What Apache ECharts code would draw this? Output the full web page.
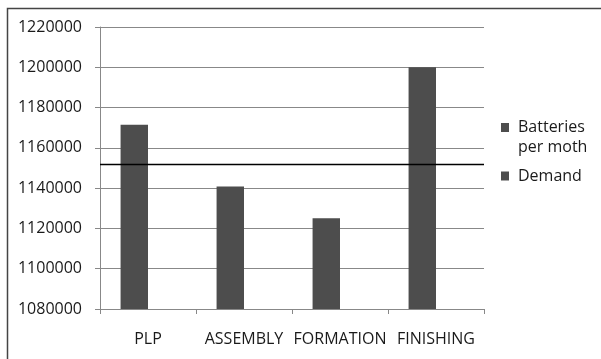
<!DOCTYPE html>
<html>
<head>
<meta charset="utf-8">
<script src="https://cdn.jsdelivr.net/npm/echarts@6/dist/echarts.min.js"></script>
<style>
  html, body { margin: 0; padding: 0; background: #fff; }
  #chart { width: 601px; height: 359px; }
</style>
</head>
<body>
<div id="chart"></div>
<script>
// Production stages and monthly battery output per stage
const stages = ['PLP', 'ASSEMBLY', 'FORMATION', 'FINISHING'];
const batteriesPerMonth = [1171500, 1140800, 1125000, 1200000];
const demand = 1152000;
const yTicks = { min: 1080000, max: 1220000, step: 20000 };

const FONT = '"Open Sans", sans-serif';
const BAR = '#4d4d4d';
const GRID = '#888888';
const TEXT = '#1a1a1a';

// Legend swatches: a square inside a taller box, so the square can sit
// beside the first line of a wrapped name or centred on a single line.
const SWATCH_TOP = 'path://M0,0H8V9H0ZM0,28';
const SWATCH_MID = 'path://M0,0M0,9.5H8V18.5H0ZM0,28';

const chart = echarts.init(document.getElementById('chart'), null, { renderer: 'canvas' });

chart.setOption({
  animation: false,
  backgroundColor: '#ffffff',
  graphic: [{
    type: 'rect',
    shape: { x: 7.5, y: 8.5, width: 700, height: 500 },
    style: { fill: 'none', stroke: '#444', lineWidth: 1.5 },
    silent: true
  }],
  grid: { left: 100, right: 117, top: 27, bottom: 50 },
  legend: {
    orient: 'vertical',
    left: 496,
    top: 112,
    itemWidth: 8,
    itemHeight: 28,
    itemGap: 5,
    textStyle: { fontFamily: FONT, fontSize: 16, color: TEXT, lineHeight: 20, padding: [0, 0, 0, 4] },
    data: [
      { name: 'Batteries\nper moth', icon: SWATCH_TOP },
      { name: 'Demand', icon: SWATCH_MID }
    ]
  },
  xAxis: {
    type: 'category',
    data: stages,
    axisLine: { lineStyle: { color: GRID, width: 1 } },
    axisTick: { show: true, length: 5, lineStyle: { color: GRID } },
    axisLabel: { fontFamily: FONT, fontSize: 16, color: TEXT, margin: 22, interval: 0 }
  },
  yAxis: {
    type: 'value',
    min: yTicks.min,
    max: yTicks.max,
    interval: yTicks.step,
    axisLine: { show: true, lineStyle: { color: GRID, width: 1 } },
    axisTick: { show: true, length: 5, lineStyle: { color: GRID } },
    splitLine: { lineStyle: { color: GRID, width: 1 } },
    axisLabel: {
      fontFamily: FONT, fontSize: 16, color: TEXT, margin: 18,
      formatter: (v) => String(v)
    }
  },
  series: [
    {
      name: 'Batteries\nper moth',
      type: 'bar',
      data: batteriesPerMonth,
      itemStyle: { color: BAR },
      barGap: '0%',
      barCategoryGap: '42.86%'
    },
    {
      name: 'Demand',
      type: 'bar',
      data: stages.map(() => null),
      itemStyle: { color: BAR },
      markLine: {
        symbol: 'none',
        silent: true,
        label: { show: false },
        lineStyle: { color: '#000', width: 1.3, type: 'solid' },
        data: [{ yAxis: demand }]
      }
    }
  ]
});
</script>
</body>
</html>
